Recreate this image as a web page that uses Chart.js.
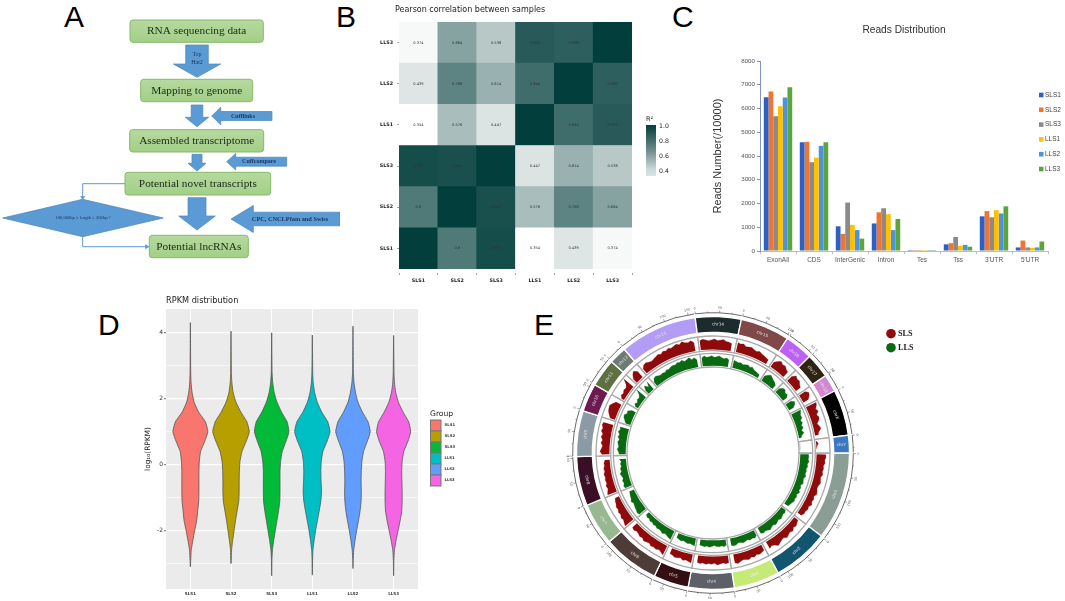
<!DOCTYPE html>
<html><head><meta charset="utf-8">
<script src="https://cdn.jsdelivr.net/npm/chart.js@4"></script>
<style>
html,body{margin:0;padding:0;background:#fff;width:1065px;height:601px;overflow:hidden}
canvas{position:absolute;filter:blur(.35px)}
.L{position:absolute;font:30px 'Liberation Sans';color:#000;line-height:30px}
</style></head><body>
<div class="L" style="left:64px;top:2px">A</div>
<div class="L" style="left:336px;top:2px">B</div>
<div class="L" style="left:672px;top:2px">C</div>
<div class="L" style="left:98px;top:310px">D</div>
<div class="L" style="left:534px;top:310px">E</div>
<script>
// ---------- data ----------
const samples=['SLS1','SLS2','SLS3','LLS1','LLS2','LLS3'];
// B: Pearson correlation, one row per sample (bottom to top)
const corrSLS1=[1,0.8,0.951,0.354,0.439,0.374];
const corrSLS2=[0.8,1,0.941,0.576,0.768,0.664];
const corrSLS3=[0.951,0.941,1,0.447,0.614,0.538];
const corrLLS1=[0.354,0.576,0.447,1,0.844,0.905];
const corrLLS2=[0.439,0.768,0.614,0.844,1,0.889];
const corrLLS3=[0.374,0.664,0.538,0.905,0.889,1];
const corrRows=[corrSLS1,corrSLS2,corrSLS3,corrLLS1,corrLLS2,corrLLS3];
// C: reads distribution
const regions=['ExonAll','CDS','InterGenic','Intron','Tes','Tss',"3'UTR","5'UTR"];
const readsSLS1=[6480,4580,1040,1160,40,280,1460,150];
const readsSLS2=[6720,4600,720,1630,40,330,1680,440];
const readsSLS3=[5680,3740,2040,1800,40,590,1420,150];
const readsLLS1=[6100,3930,1100,1550,40,210,1720,130];
const readsLLS2=[6460,4430,880,880,40,260,1580,150];
const readsLLS3=[6900,4580,520,1350,40,180,1880,400];
const readsAll=[readsSLS1,readsSLS2,readsSLS3,readsLLS1,readsLLS2,readsLLS3];
// D: violin half widths at each log10(RPKM) level
const violinLevels=[2.8,2.5,2.2,1.9,1.6,1.3,1.0,0.7,0.4,0.1,-0.2,-0.5,-0.8,-1.1,-1.4,-1.7,-2.0,-2.3,-2.6,-2.9];
const violinTop=[4.31,4.05,4.0,3.93,4.2,3.92];
const violinBottom=[-3.1,-3.0,-3.37,-3.35,-3.15,-3.37];
const widthSLS1=[.008,.016,.04,.09,.2,.37,.43,.35,.25,.22,.21,.21,.21,.205,.18,.155,.105,.06,.02,.008];
const widthSLS2=[.008,.02,.05,.12,.24,.39,.45,.37,.27,.22,.205,.2,.2,.19,.15,.11,.075,.04,.012,.006];
const widthSLS3=[.01,.025,.06,.13,.24,.38,.425,.35,.26,.22,.205,.205,.205,.2,.17,.13,.09,.05,.018,.006];
const widthLLS1=[.01,.022,.055,.12,.23,.38,.435,.36,.26,.22,.21,.215,.225,.21,.17,.125,.08,.045,.015,.006];
const widthLLS2=[.01,.025,.06,.12,.23,.37,.425,.35,.26,.22,.205,.2,.205,.2,.175,.135,.09,.05,.018,.006];
const widthLLS3=[.01,.02,.05,.115,.23,.37,.42,.35,.25,.21,.2,.205,.21,.21,.2,.16,.11,.06,.02,.006];
const widthsAll=[widthSLS1,widthSLS2,widthSLS3,widthLLS1,widthLLS2,widthLLS3];
// E: chromosomes, relative lengths and track heights (0-1)
const chromNames=['chr1','chr2','chr3','chr4','chr5','chr6','chr7','chr8','chr9','chr10','chr11','chr12','chr13','chr14','chr15','chr16','chr17','chr18','chrX','chrY'];
const chromLengths=[25,16,13,13,10,16,12,14,13,8,8,5,22,13,14,8,7,5,13,5];
const trackSLS=[
[.68,.7,.62,.66,.56,.6,.54,.62,.5,.54,.6,.5,.46,.54,.6,.46,.54,.48,.6,.44,.5,.42,.44,.32],
[.34,.42,.52,.44,.6,.5,.56,.66,.5,.54,.62,.72,.52,.46,.56],
[.44,.52,.58,.5,.62,.54,.66,.58,.54,.62,.72,.62],
[.52,.58,.5,.56,.62,.5,.56,.52,.58,.5,.56,.5],
[.64,.56,.5,.58,.46,.52,.56,.46,.42],
[.74,.62,.52,.62,.56,.62,.5,.56,.62,.5,.56,.46,.42,.52,.44],
[.78,.7,.6,.66,.54,.6,.5,.54,.44,.4,.3],
[.72,.64,.54,.62,.5,.56,.5,.56,.46,.5,.42,.44,.34],
[.54,.7,.6,.52,.66,.56,.7,.6,.76,.68,.8,.74],
[.36,.52,.66,.72,.76,.6,.42],
[.2,.36,.3,.42,.36,.52,.92],
[.34,.62,.78,.54],
[.42,.62,.66,.56,.5,.56,.62,.68,.6,.72,.64,.76,.68,.76,.84,.72,.88,.76,.7,.8,.62],
[.7,.78,.72,.64,.7,.78,.66,.7,.76,.64,.62,.54],
[.72,.66,.72,.56,.62,.66,.56,.5,.6,.5,.46,.4,.34],
[.42,.62,.78,.66,.7,.56,.48],
[.46,.72,.62,.66,.5,.4],
[.52,.72,.62,.4],
[.84,.76,.6,.72,.5,.62,.54,.34,.46,.52,.3,.24],
[0,.16,.05,0]];
const trackLLS=[
[.68,.72,.68,.76,.64,.7,.6,.66,.6,.7,.56,.6,.66,.5,.6,.54,.66,.5,.6,.54,.6,.5,.44,.38],
[.4,.52,.46,.56,.62,.5,.6,.66,.54,.6,.72,.6,.54,.62,.5],
[.5,.62,.54,.62,.5,.56,.62,.54,.5,.62,.66,.58],
[.5,.58,.5,.56,.52,.44,.52,.58,.5,.56,.5,.48],
[.62,.56,.5,.56,.5,.44,.52,.44,.38],
[.76,.7,.6,.54,.66,.54,.5,.56,.44,.5,.4,.46,.34,.4,.28],
[.7,.78,.7,.66,.6,.54,.66,.54,.5,.44,.38],
[.6,.66,.54,.62,.5,.56,.66,.5,.56,.44,.5,.4,.56],
[.54,.6,.72,.6,.66,.72,.6,.76,.66,.82,.7,.76],
[.4,.56,.72,.78,.6,.66,.34],
[.25,.42,.3,.46,.4,.56,.96],
[.34,.72,.4,.82],
[.4,.66,.72,.6,.54,.6,.54,.66,.6,.72,.76,.7,.82,.76,.88,.7,.8,.92,.7,.82,.58],
[.7,.84,.72,.76,.84,.7,.76,.82,.7,.64,.72,.58],
[.66,.6,.54,.6,.5,.56,.62,.5,.6,.44,.4,.34,.28],
[.44,.66,.82,.7,.6,.54,.38],
[.4,.66,.72,.54,.6,.38],
[.5,.76,.66,.38],
[.86,.76,.66,.7,.5,.6,.44,.54,.34,.5,.28,.18],
[0,0,0,0]];
// A: flowchart texts
const flowSteps=['RNA sequencing data','Mapping to genome','Assembled transcriptome','Potential novel transcripts','Potential lncRNAs'];
const flowTools=['Cufflinks','Cuffcompare','CPC, CNCLPfam and Swiss'];

// ---------- styles ----------
const barColors=['#2f5fc0','#ef7530','#8a8a8a','#ffc000','#4c92dc','#5aa53c'];
const violinColors=['#F8766D','#B79F00','#00BA38','#00BFC4','#619CFF','#F564E3'];
const chromColors=['#8a9e96','#12556e','#c6ea76','#5e6068','#330e12','#4e3c38','#98b890','#3a0e24','#8b9aa4','#6e1a50','#5f7040','#6e7a74','#b39cf5','#1c2c2c','#804848','#bd60f5','#2d2414','#d286d4','#000000','#3a78c0'];
const SLScolor='#8f0a0a', LLScolor='#0a6a12';
const MONO="'DejaVu Sans'", SANS="'Liberation Sans'", SERIF="'Liberation Serif'";
Chart.defaults.animation=false;
Chart.defaults.events=[];
Chart.defaults.plugins.legend.display=false;
Chart.defaults.plugins.tooltip.enabled=false;

function canvas(l,t,w,h){const c=document.createElement('canvas');c.width=w;c.height=h;
 c.style.left=l+'px';c.style.top=t+'px';c.style.width=w+'px';c.style.height=h+'px';document.body.appendChild(c);return c.getContext('2d');}
const cfgBase={responsive:false,maintainAspectRatio:false,devicePixelRatio:1};

// ---------- A flowchart ----------
new Chart(canvas(0,0,340,280),{type:'scatter',data:{datasets:[{data:[]}]},
 options:{...cfgBase,layout:{padding:0},scales:{x:{display:false,min:0,max:340},y:{display:false,min:0,max:280,reverse:true}}},
 plugins:[{id:'flow',afterDraw(ch){
  const c=ch.ctx,X=v=>ch.scales.x.getPixelForValue(v),Y=v=>ch.scales.y.getPixelForValue(v);
  const poly=(pts,fill='#5b9bd5',stroke='#4a84b8')=>{c.beginPath();pts.forEach((p,i)=>i?c.lineTo(X(p[0]),Y(p[1])):c.moveTo(X(p[0]),Y(p[1])));c.closePath();c.fillStyle=fill;c.fill();c.strokeStyle=stroke;c.lineWidth=.7;c.stroke();};
  const txt=(s,x,y,f,col='#1c2a1c')=>{c.font=f;c.fillStyle=col;c.textAlign='center';c.textBaseline='middle';c.fillText(s,X(x),Y(y));};
  const boxes=[[130,20,263.3,42.3],[140.7,79.3,252.7,101.7],[129.7,129.7,263.7,152],[125,172.3,270.7,195],[149.3,235.3,248.3,257.7]];
  boxes.forEach((b,i)=>{c.beginPath();c.roundRect(X(b[0]),Y(b[1]),X(b[2])-X(b[0]),Y(b[3])-Y(b[1]),3);
   const g=c.createLinearGradient(0,Y(b[1]),0,Y(b[3]));g.addColorStop(0,'#b6d99f');g.addColorStop(1,'#a2cf86');c.fillStyle=g;c.fill();c.strokeStyle='#86b96a';c.lineWidth=1;c.stroke();
   txt(flowSteps[i],(b[0]+b[2])/2,(b[1]+b[3])/2+.3,"11.3px "+SERIF,'#1a2a1a');});
  const down=(xc,y0,yn,y1,hs,hh)=>poly([[xc-hs,y0],[xc+hs,y0],[xc+hs,yn],[xc+hh,yn],[xc,y1],[xc-hh,yn],[xc-hs,yn]]);
  const left=(xt,xb,xe,yc,hs,hh)=>poly([[xt,yc],[xb,yc-hh],[xb,yc-hs],[xe,yc-hs],[xe,yc+hs],[xb,yc+hs],[xb,yc+hh]]);
  down(197,45,64,77.3,11.3,23.7); down(197,105,117.3,126.7,5.8,11.7); down(197,154.3,163.3,171,5,9); down(197,197.7,216,230,9,18.3);
  left(211.7,220.7,272,116,4.5,8.8); left(226.7,235.7,286.7,161.7,4.5,8.3); left(231,253.3,340,219,6.8,13.5);
  txt('Top',197,54,"6px "+SERIF,'#17365d'); txt('Hat2',197,62,"6px "+SERIF,'#17365d');
  txt(flowTools[0],243,116,"bold 6px "+SERIF,'#17365d'); txt(flowTools[1],259,161.7,"bold 6px "+SERIF,'#17365d'); txt(flowTools[2],290,219,"bold 6.3px "+SERIF,'#17365d');
  poly([[2.7,218],[82.7,199.3],[163.3,218],[82.7,236.7]]);
  txt('100,000bp ≥ length ≥ 200bp ?',83,218,"4.6px "+SERIF,'#17365d');
  c.strokeStyle='#5b9bd5';c.lineWidth=1;c.beginPath();c.moveTo(X(125),Y(183.7));c.lineTo(X(82.7),Y(183.7));c.lineTo(X(82.7),Y(197));c.moveTo(X(82.7),Y(236.7));c.lineTo(X(82.7),Y(246.7));c.lineTo(X(147),Y(246.7));c.stroke();
  poly([[80.7,196.5],[84.7,196.5],[82.7,199.5]],'#5b9bd5','#5b9bd5'); poly([[145.5,244.7],[145.5,248.7],[149,246.7]],'#5b9bd5','#5b9bd5');
 }}]});

// ---------- B heatmap (stacked unit bars) ----------
const heat=v=>{const t=Math.max(0,Math.min(1,(v-0.354)/0.646));const m=(a,b)=>Math.round(a+(b-a)*t);return `rgb(${m(255,2)},${m(255,62)},${m(255,60)})`;};
new Chart(canvas(360,0,310,290),{type:'bar',
 data:{labels:samples,datasets:corrRows.map((r,i)=>({label:samples[i],data:r.map(()=>1),corr:r,backgroundColor:r.map(heat),borderWidth:0,barPercentage:1,categoryPercentage:1}))},
 options:{...cfgBase,layout:{padding:{left:9,right:38,top:22,bottom:3}},
  scales:{
   x:{stacked:true,afterFit:s=>{s.height=18},border:{display:false},grid:{drawOnChartArea:false,tickLength:6,tickBorderDash:[0,4,2,20],tickColor:'#777',tickWidth:.7},ticks:{padding:3,maxRotation:0,color:'#222',font:{family:MONO,size:4.8,weight:'bold'}}},
   y:{stacked:true,min:0,max:6,afterFit:s=>{s.width=30},afterBuildTicks:s=>{s.ticks=samples.map((_,i)=>({value:i+.5}))},border:{display:false},grid:{drawOnChartArea:false,tickLength:5,tickBorderDash:[0,3,2,20],tickColor:'#777',tickWidth:.7},ticks:{padding:1,color:'#222',font:{family:MONO,size:4.8,weight:'bold'},callback:v=>samples[Math.floor(v)]}}}},
 plugins:[{id:'cells',afterDatasetsDraw(ch){const c=ch.ctx;c.font="3.6px "+MONO;c.textAlign='center';c.textBaseline='middle';c.fillStyle='#333';
   ch.data.datasets.forEach((d,i)=>ch.getDatasetMeta(i).data.forEach((el,j)=>{const p=el.getCenterPoint();c.fillText(String(d.corr[j]),p.x,p.y);}));
   c.fillStyle='#222';c.font="8px "+MONO;c.textAlign='left';c.fillText('Pearson correlation between samples',35,10);
   const x0=646-360,y0=125,g=c.createLinearGradient(0,y0,0,176);g.addColorStop(0,'#023e3c');g.addColorStop(.5,'#6d8c8c');g.addColorStop(.85,'#c8d6d6');g.addColorStop(1,'#d4e6ea');c.fillStyle=g;c.fillRect(x0,y0,10,51);
   c.fillStyle='#222';c.font="6.2px "+MONO;c.textAlign='left';[['1.0',126],['0.8',141],['0.6',156],['0.4',171]].forEach(a=>c.fillText(a[0],x0+13,a[1]));
   c.font="6.5px "+MONO;c.fillText('R²',x0,119.5);
 }}]});

// ---------- C grouped bars ----------
new Chart(canvas(700,0,365,290),{type:'bar',
 data:{labels:regions,datasets:readsAll.map((r,i)=>({label:samples[i],data:r,backgroundColor:barColors[i],borderWidth:0,barPercentage:1,categoryPercentage:.79}))},
 options:{...cfgBase,layout:{padding:{left:11.7,right:17,top:0,bottom:19}},
  plugins:{title:{display:true,text:'Reads Distribution',fullSize:false,color:'#333',font:{family:SANS,size:10.2,weight:'normal'},padding:{top:24,bottom:24.8}}},
  scales:{
   x:{afterFit:s=>{s.height=20},border:{color:'#bdbdbd'},grid:{drawOnChartArea:false,offset:true,tickLength:3,color:'#bdbdbd'},ticks:{padding:2,maxRotation:0,color:'#555',font:{family:SANS,size:6.5}}},
   y:{min:0,max:8000,afterFit:s=>{s.width=48.3},border:{color:'#7f93c4',width:1},grid:{drawOnChartArea:false,tickLength:3,color:'#7f93c4'},ticks:{stepSize:1000,padding:2,color:'#555',font:{family:SANS,size:6.2},callback:v=>String(v)},
      title:{display:true,text:'Reads Number(/10000)',padding:0,color:'#333',font:{family:SANS,size:11,weight:'normal'}}}}},
 plugins:[{id:'key',afterDraw(ch){const c=ch.ctx;c.font="6.5px "+SANS;c.textAlign='left';c.textBaseline='middle';
   ch.data.datasets.forEach((d,i)=>{const y=95+i*14.8;c.fillStyle=d.backgroundColor;c.fillRect(339,y-2.3,4.5,4.6);c.fillStyle='#444';c.fillText(d.label,345,y);});}}]});

// ---------- D violins (closed polygons on a scatter chart) ----------
const violin=i=>{const w=widthsAll[i],cx=i+1,pts=[{x:cx,y:violinTop[i]}];
 violinLevels.forEach((y,k)=>pts.push({x:cx+w[k],y}));pts.push({x:cx,y:violinBottom[i]});
 for(let k=violinLevels.length-1;k>=0;k--)pts.push({x:cx-w[k],y:violinLevels[k]});pts.push({x:cx,y:violinTop[i]});return pts;};
new Chart(canvas(90,290,400,311),{type:'scatter',
 data:{datasets:samples.map((s,i)=>({label:s,data:violin(i),showLine:true,fill:'shape',tension:.15,backgroundColor:violinColors[i],borderColor:'#555',borderWidth:.8,pointRadius:0}))},
 options:{...cfgBase,layout:{padding:{left:53.5,right:72,top:0,bottom:0}},
  plugins:{title:{display:true,text:'RPKM distribution',align:'start',fullSize:false,color:'#222',font:{family:MONO,size:8.2,weight:'normal'},padding:{top:6,bottom:3.2}}},
  scales:{
   x:{min:.4,max:6.6,afterFit:s=>{s.height=12},afterBuildTicks:s=>{s.ticks=samples.map((_,i)=>({value:i+1}))},border:{display:false},grid:{color:'#fff',lineWidth:1,drawTicks:false},ticks:{padding:3,maxRotation:0,color:'#333',font:{family:MONO,size:4,weight:'bold'},callback:v=>samples[v-1]}},
   y:{min:-3.77,max:4.72,afterFit:s=>{s.width=22.5},border:{display:false},grid:{color:'#fff',lineWidth:c=>c.tick&&c.tick.value%2===0?1.2:.6,tickLength:2,tickColor:c=>c.tick&&c.tick.value%2===0?'#888':'rgba(0,0,0,0)'},ticks:{stepSize:1,includeBounds:false,padding:1,color:'#333',font:{family:MONO,size:6},callback:v=>v%2===0?String(v):''},
      title:{display:true,text:'log₁₀(RPKM)',padding:0,color:'#222',font:{family:MONO,size:7.4}}}}},
 plugins:[{id:'panel',beforeDraw(ch){const a=ch.chartArea,c=ch.ctx;c.fillStyle='#ebebeb';c.fillRect(a.left,a.top,a.width,a.height);}},
  {id:'key',afterDraw(ch){const c=ch.ctx;c.fillStyle='#222';c.font="7.6px "+MONO;c.textAlign='left';c.textBaseline='middle';c.fillText('Group',340,124);
   c.font="bold 3.8px "+MONO;c.textBaseline='middle';
   ch.data.datasets.forEach((d,i)=>{const y=130+i*11;c.fillStyle=d.backgroundColor;c.fillRect(340.5,y,10.5,11);c.strokeStyle='#777';c.lineWidth=1;c.strokeRect(340.5,y,10.5,11);c.fillStyle='#333';c.fillText(d.label,354.5,y+5.5);});}}]});

// ---------- E circos: rings are a doughnut, tracks are a radar ----------
const ring=(bg,bc,bw,weight)=>({data:chromLengths,backgroundColor:bg,borderColor:bc,borderWidth:bw,weight});
new Chart(canvas(513,293,400,320),{type:'doughnut',
 data:{labels:chromNames,datasets:[ring('rgba(0,0,0,0)','rgba(0,0,0,0)',0,4.5),ring(chromColors,'#fff',1.3,15.8),ring('rgba(0,0,0,0)','rgba(0,0,0,0)',0,3.7),ring('#fff','#a8a8a8',1.3,14.7),ring('rgba(0,0,0,0)','rgba(0,0,0,0)',0,2.6),ring('#fff','#a8a8a8',1.3,13.7)]},
 options:{...cfgBase,rotation:90,radius:141,cutout:'61%',layout:{padding:0}},
 plugins:[{id:'ruler',afterDatasetsDraw(ch){const c=ch.ctx,bands=ch.getDatasetMeta(1).data;
   bands.forEach((a,i)=>{const R=140.3,s=a.startAngle+.004,e=a.endAngle-.004;
    c.strokeStyle='#444';c.lineWidth=.8;c.beginPath();c.arc(a.x,a.y,R,s,e);c.stroke();
    const step=5*Math.PI/180,n=Math.floor((e-s)/step);
    for(let k=0;k<=n;k++){const t=s+k*step,big=k%2===0,l=big?2.4:1.3;c.lineWidth=.5;c.beginPath();c.moveTo(a.x+Math.cos(t)*R,a.y+Math.sin(t)*R);c.lineTo(a.x+Math.cos(t)*(R+l),a.y+Math.sin(t)*(R+l));c.stroke();
     if(big){c.save();c.translate(a.x+Math.cos(t)*(R+5),a.y+Math.sin(t)*(R+5));let r=t+Math.PI/2;if(Math.sin(t)>0)r+=Math.PI;c.rotate(r);c.font="3.2px "+MONO;c.fillStyle='#555';c.textAlign='center';c.textBaseline='middle';c.fillText(String(k*25),0,0);c.restore();}}
    const m=(a.startAngle+a.endAngle)/2,rm=(a.innerRadius+a.outerRadius)/2;c.save();c.translate(a.x+Math.cos(m)*rm,a.y+Math.sin(m)*rm);let r=m+Math.PI/2;if(Math.sin(m)>0.0)r+=Math.PI;
    if(i>=18||i===0)r=(i===0?-70:(i===18?69:0))*Math.PI/180;c.rotate(r);c.font="4.2px "+MONO;c.fillStyle=i===2?'#eef':'#e4e4e4';c.textAlign='center';c.textBaseline='middle';c.fillText(chromNames[i],0,0);c.restore();});
 }}]});
const trackRadii={SLS:{base:103.6,h:13.5},LLS:{base:87.3,h:12}};
const flatten=(t,b,h)=>t.flatMap(v=>[...v.map(x=>b+x*h),null]);
const binLabels=chromNames.flatMap((n,i)=>Array(chromLengths[i]).fill(n));
new Chart(canvas(513,293,400,320),{type:'radar',
 data:{labels:binLabels,datasets:[
  {label:'SLS',data:flatten(trackSLS,trackRadii.SLS.base,trackRadii.SLS.h),fill:{value:trackRadii.SLS.base},backgroundColor:SLScolor,borderColor:SLScolor,borderWidth:.3,pointRadius:0,tension:0,spanGaps:false},
  {label:'LLS',data:flatten(trackLLS,trackRadii.LLS.base,trackRadii.LLS.h),fill:{value:trackRadii.LLS.base},backgroundColor:LLScolor,borderColor:LLScolor,borderWidth:.3,pointRadius:0,tension:0,spanGaps:false}]},
 options:{...cfgBase,layout:{padding:0},scales:{r:{min:0,max:160,startAngle:90.75,angleLines:{display:false},grid:{display:false,circular:true},ticks:{display:false},pointLabels:{display:false}}}},
 plugins:[{id:'key',afterDraw(ch){const c=ch.ctx;ch.data.datasets.forEach((d,i)=>{const y=40.7+i*14;c.fillStyle=d.backgroundColor;c.beginPath();c.arc(378,y,4.8,0,Math.PI*2);c.fill();c.fillStyle='#222';c.font="bold 8.2px "+SERIF;c.textAlign='left';c.textBaseline='middle';c.fillText(d.label,385,y);});}}]});
</script>
</body></html>
